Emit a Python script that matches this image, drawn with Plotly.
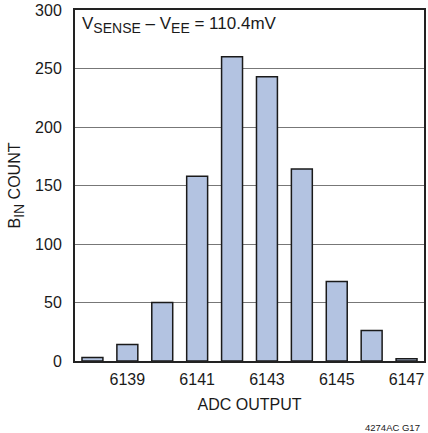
import plotly.graph_objects as go

adc_codes = [6138, 6139, 6140, 6141, 6142, 6143, 6144, 6145, 6146, 6147]
bin_counts = [3, 14, 50, 158, 260, 243, 164, 68, 26, 2]
x_ticks = [6139, 6141, 6143, 6145, 6147]
y_ticks = [0, 50, 100, 150, 200, 250, 300]

FONT = "Liberation Sans, Arial, sans-serif"

fig = go.Figure()
fig.add_trace(go.Bar(
    x=adc_codes, y=bin_counts, width=0.6,
    marker=dict(color="#b3c3e1", line=dict(color="#1a1a1a", width=1.5)),
))
sub = lambda s: '<sub><span style="font-size:14px">' + s + '</span></sub>'
fig.update_layout(
    width=428, height=433,
    margin=dict(l=75, r=2, t=10, b=72),
    paper_bgcolor="white", plot_bgcolor="white",
    font=dict(family=FONT, size=16, color="#1a1a1a"),
    showlegend=False,
    xaxis=dict(range=[6137.5, 6147.5], tickvals=x_ticks, ticks="", showgrid=False,
               showline=True, linecolor="#222", linewidth=2, mirror=True,
               ticklabelstandoff=3,
               title=dict(text="ADC OUTPUT", font=dict(size=16), standoff=12),
               tickfont=dict(size=16)),
    yaxis=dict(range=[0, 300], tickvals=y_ticks, ticks="", showgrid=True,
               gridcolor="#777", gridwidth=1,
               showline=True, linecolor="#222", linewidth=2, mirror=True,
               zeroline=False, ticklabelstandoff=8,
               title=dict(text="B" + sub("IN") + " COUNT", font=dict(size=16), standoff=10),
               tickfont=dict(size=16)),
    annotations=[
        dict(text="V" + sub("SENSE") + " – V" + sub("EE") + " = 110.4mV", xref="paper", yref="paper",
             x=0.015, y=0.993, xanchor="left", yanchor="top", showarrow=False,
             font=dict(size=17), bgcolor="white"),
        dict(text="4274AC G17", xref="paper", yref="paper", x=0.995, y=-0.168,
             xanchor="right", yanchor="top", showarrow=False, font=dict(size=9.5)),
    ],
)
fig.write_html("out.html", config={"displayModeBar": False},
               post_script="document.body.style.margin='0';document.body.style.overflow='hidden';")
